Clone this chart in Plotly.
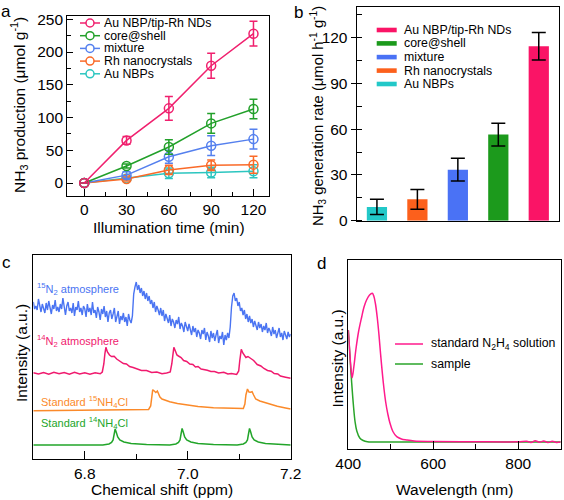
import plotly.graph_objects as go

W, H = 564, 500
FONT = "Arial"

def px(x):
    return x / W

def py(y):
    return 1 - y / H

# ---------------- Panel a data ----------------
time_min = [0, 30, 60, 90, 120]
a_series = ["Au NBPs", "Rh nanocrystals", "mixture", "core@shell", "Au NBP/tip-Rh NDs"]
a_values = {
    "Au NBP/tip-Rh NDs": [0, 65, 114, 179, 228],
    "core@shell": [0, 26, 55, 91, 113],
    "mixture": [0, 12, 40, 57, 67],
    "Rh nanocrystals": [0, 6, 20, 27, 28],
    "Au NBPs": [0, 7, 15, 16, 18],
}
a_errors = {
    "Au NBP/tip-Rh NDs": [0, 6, 18, 19, 19],
    "core@shell": [0, 3, 11, 15, 15],
    "mixture": [0, 5, 10, 15, 15],
    "Rh nanocrystals": [0, 3, 7, 8, 13],
    "Au NBPs": [0, 2, 8, 8, 10],
}
a_colors = {
    "Au NBP/tip-Rh NDs": "#f0206e",
    "core@shell": "#22a02a",
    "mixture": "#5580ee",
    "Rh nanocrystals": "#fa6a28",
    "Au NBPs": "#2cc6c0",
}
legend_order = ["Au NBP/tip-Rh NDs", "core@shell", "mixture", "Rh nanocrystals", "Au NBPs"]

# ---------------- Panel b data ----------------
b_categories = ["Au NBPs", "Rh nanocrystals", "mixture", "core@shell", "Au NBP/tip-Rh NDs"]
b_rates = [9, 14, 33.5, 56.5, 114.5]
b_errors = [5, 6.5, 7.5, 7.5, 9]
b_colors = {
    "Au NBP/tip-Rh NDs": "#fa1466",
    "core@shell": "#1c9a1c",
    "mixture": "#4a72f5",
    "Rh nanocrystals": "#fc601c",
    "Au NBPs": "#22c8c8",
}

# ---------------- Panel c data (NMR) ----------------
c_ticks = [6.8, 7.0, 7.2]
c_ticktext = ["6.8", "7.0", "7.2"]

green_ppm = [6.70, 6.835, 6.847, 6.852, 6.855, 6.857, 6.859, 6.861, 6.864, 6.868, 6.876, 6.89, 6.92,
             6.965, 6.977, 6.982, 6.985, 6.987, 6.989, 6.991, 6.994, 6.998, 7.006, 7.02, 7.05,
             7.096, 7.108, 7.113, 7.116, 7.118, 7.120, 7.122, 7.125, 7.129, 7.137, 7.151, 7.2]
green_int = [14, 14, 15, 16.5, 19, 24, 30, 27, 22, 19, 17, 15.5, 14.5,
             14, 15, 16.5, 19, 25, 30.5, 27.5, 22, 19, 17, 15.5, 14.5,
             14, 15, 16.5, 19, 25, 30.5, 27.5, 22, 19, 17, 15.5, 14]

orange_ppm = [6.70, 6.90, 6.924, 6.928, 6.930, 6.932, 6.935, 6.938, 6.941, 6.943, 6.946, 6.950, 6.957,
              6.965, 6.98, 6.998, 7.02, 7.05, 7.08, 7.102, 7.108, 7.111, 7.113, 7.116, 7.119, 7.122,
              7.125, 7.128, 7.132, 7.140, 7.148, 7.16, 7.174, 7.19, 7.2]
orange_int = [48.3, 48.8, 49.5, 53, 62, 69.3, 68, 66.5, 68, 66, 62, 60, 58.5,
              57.3, 55.5, 54, 52.5, 51.3, 50.5, 50, 50.5, 55, 64, 70, 67, 66.7,
              67.3, 64, 60, 58, 56.7, 54.5, 52.7, 51, 50]

pink_ppm = [6.70, 6.71, 6.72, 6.73, 6.74, 6.75, 6.76, 6.77, 6.78, 6.79, 6.80, 6.81, 6.82, 6.830,
            6.834, 6.837, 6.839, 6.841, 6.844, 6.848, 6.852, 6.857, 6.862, 6.867, 6.875, 6.881,
            6.887, 6.894, 6.90, 6.91, 6.92, 6.93, 6.94, 6.95, 6.959, 6.966, 6.969, 6.971, 6.973,
            6.976, 6.979, 6.982, 6.987, 6.992, 6.998, 7.004, 7.01, 7.015, 7.02, 7.026, 7.031,
            7.038, 7.045, 7.052, 7.06, 7.07, 7.078, 7.085, 7.095, 7.099, 7.101, 7.104, 7.107,
            7.110, 7.113, 7.117, 7.122, 7.128, 7.135, 7.142, 7.148, 7.155, 7.162, 7.168, 7.175,
            7.18, 7.19, 7.2]
pink_int = [86.3, 85, 86.5, 84.8, 86.8, 85.2, 86.5, 84.9, 86.6, 85, 86.2, 84.8, 86.3, 85.2,
            87, 95, 105, 111.7, 107, 104, 102.5, 102.8, 100, 98.5, 95.5, 95,
            92.5, 91.5, 90.5, 88.5, 88.5, 86.5, 87, 85.3, 86, 87, 95, 105, 111.7,
            108, 104, 103, 101.5, 98.5, 97.5, 95, 94.5, 92, 92.5, 90, 89.7,
            88.8, 87.5, 87.5, 86, 86.8, 85, 85.6, 84.5, 88, 98, 109.7, 106,
            103, 101.5, 102.5, 100.5, 98.5, 94.5, 93, 90.5, 88.5, 87.8, 85.5, 85,
            83, 81.8, 80.7]

# noisy 15N2 spectrum, sampled every 0.0025 ppm from 6.700 to 7.200
blue_int = [157, 150, 153, 149, 160, 152, 147, 155, 151, 146,
            156, 149, 158, 151, 145, 154, 150, 159, 148, 152,
            147, 155, 150, 161, 149, 144, 153, 157, 148, 151,
            146, 156, 143, 152, 149, 158, 147, 151, 144, 153,
            150, 142, 155, 147, 151, 144, 157, 146, 149, 141,
            152, 147, 139, 150, 145, 153, 142, 148, 137, 146,
            149, 140, 145, 151, 137, 144, 148, 135, 143, 139,
            146, 137, 142, 133, 145, 139, 136, 143, 165, 172,
            177, 169, 174, 166, 171, 163, 168, 160, 166, 158,
            163, 155, 159, 151, 157, 147, 153, 149, 144, 151,
            143, 149, 138, 145, 141, 136, 144, 133, 140, 137,
            131, 139, 135, 142, 130, 136, 133, 127, 137, 131,
            128, 135, 130, 124, 133, 127, 131, 122, 129, 126,
            120, 129, 125, 131, 119, 127, 123, 117, 128, 121,
            126, 118, 124, 129, 116, 123, 120, 127, 114, 124,
            119, 126, 121, 132, 152, 163, 166, 158, 161, 153,
            157, 148, 151, 144, 149, 140, 145, 137, 143, 136,
            140, 132, 138, 134, 129, 137, 131, 135, 127, 133,
            129, 136, 126, 131, 128, 123, 132, 125, 129, 121,
            127, 131, 122, 126, 119, 128, 124, 120, 127, 122, 125]
blue_ppm = [round(6.7 + 0.0025 * i, 4) for i in range(len(blue_int))]

# ---------------- Panel d data ----------------
sample_nm = [400, 402, 405, 408, 412, 416, 420, 427, 435, 445, 500, 600, 700, 800, 900]
sample_int = [119, 105, 85, 66, 44, 27, 18, 11, 8.5, 7.3, 7, 7, 7, 7, 7]
n2h4_nm = [400, 403, 406, 409, 413, 418, 424, 431.5, 437, 443, 450, 456.5, 460, 464, 468, 472,
           476, 482.5, 488, 493, 498, 505, 514, 525, 537, 555, 600, 700, 800, 820, 830, 840,
           850, 860, 870, 880, 890, 900]
n2h4_int = [119, 100, 82, 71.3, 82, 100, 117, 132, 142, 149, 154, 155.7, 153, 145, 132, 115,
            95, 66, 47, 35, 26, 17.5, 12.3, 10, 9, 8, 7.5, 7.2, 7.2, 7.8, 6.6, 8.2,
            6.8, 8, 6.5, 7.8, 6.6, 7.2]

fig = go.Figure()

# Panel a traces
for name in a_series:
    c = a_colors[name]
    fig.add_trace(go.Scatter(
        x=time_min, y=a_values[name], mode="lines+markers", name=name,
        line=dict(color=c, width=1.5),
        marker=dict(symbol="circle-open", size=9, color=c, line=dict(width=1.5, color=c)),
        error_y=dict(type="data", array=a_errors[name], color=c, thickness=1.5, width=4),
        xaxis="x", yaxis="y", showlegend=False))

# Panel b bars
fig.add_trace(go.Bar(
    x=b_categories, y=b_rates, width=0.5,
    marker=dict(color=[b_colors[c] for c in b_categories], line=dict(width=0)),
    error_y=dict(type="data", array=b_errors, color="black", thickness=1.5, width=7),
    xaxis="x2", yaxis="y2", showlegend=False))

# Panel c traces
for xs, ys, col, lw in [(green_ppm, green_int, "#22a52a", 1.5),
                        (orange_ppm, orange_int, "#fb8a2a", 1.5),
                        (pink_ppm, pink_int, "#f01a6e", 1.5),
                        (blue_ppm, blue_int, "#4a74f2", 1.4)]:
    fig.add_trace(go.Scatter(x=xs, y=ys, mode="lines", line=dict(color=col, width=lw),
                             xaxis="x3", yaxis="y3", showlegend=False))

# Panel d traces
fig.add_trace(go.Scatter(x=sample_nm, y=sample_int, mode="lines", line=dict(color="#2aa52a", width=1.5, shape="spline"),
                         xaxis="x4", yaxis="y4", showlegend=False))
fig.add_trace(go.Scatter(x=n2h4_nm, y=n2h4_int, mode="lines", line=dict(color="#ff1a8c", width=1.5, shape="spline"),
                         xaxis="x4", yaxis="y4", showlegend=False))

tickfont = dict(family=FONT, size=15.5, color="black")
common = dict(showline=True, mirror=True, linecolor="black", linewidth=1.2, showgrid=False,
              zeroline=False, tickfont=tickfont, tickcolor="black", tickwidth=1.2, automargin=False)

fig.update_layout(
    width=W, height=H, margin=dict(l=0, r=0, t=0, b=0, pad=0, autoexpand=False),
    paper_bgcolor="white", plot_bgcolor="white",
    font=dict(family=FONT, color="black"),
    xaxis=dict(domain=[px(67.3), px(269)], range=[-12, 131], anchor="y",
               tickmode="array", tickvals=time_min, ticks="inside", ticklen=7,
               minor=dict(dtick=15, tick0=0, ticks="inside", ticklen=4, tickcolor="black"), **common),
    yaxis=dict(domain=[py(195.7), py(16)], range=[-19.4, 255], anchor="x",
               tickmode="linear", tick0=0, dtick=50, ticks="inside", ticklen=6,
               minor=dict(dtick=25, tick0=0, ticks="inside", ticklen=4, tickcolor="black"), **common),
    xaxis2=dict(domain=[px(356.7), px(559)], range=[-0.5, 4.5], anchor="y2", type="category",
                showticklabels=False, ticks="", **common),
    yaxis2=dict(domain=[py(220.7), py(7.3)], range=[0, 140], anchor="x2",
                tickmode="linear", tick0=0, dtick=30, ticks="outside", ticklen=5,
                minor=dict(dtick=15, tick0=0, ticks="inside", ticklen=5, tickcolor="black"), **common),
    xaxis3=dict(domain=[px(33.3), px(290.7)], range=[6.7, 7.2], anchor="y3",
                tickmode="array", tickvals=c_ticks, ticktext=c_ticktext, ticks="inside", ticklen=8,
                minor=dict(tickvals=[6.9, 7.1], ticks="inside", ticklen=5, tickcolor="black"), **common),
    yaxis3=dict(domain=[py(459), py(255)], range=[0, 204], anchor="x3",
                showticklabels=False, ticks="", **common),
    xaxis4=dict(domain=[px(348.3), px(560.7)], range=[400, 900], anchor="y4",
                tickmode="linear", tick0=400, dtick=200, ticks="inside", ticklen=8,
                minor=dict(dtick=100, tick0=400, ticks="inside", ticklen=5, tickcolor="black"), **common),
    yaxis4=dict(domain=[py(449), py(260)], range=[0, 189], anchor="x4",
                showticklabels=False, ticks="", **common),
)

ann = []
shapes = []

def text(x, y, s, size=15.5, color="black", angle=0, xanchor="center", yanchor="middle"):
    ann.append(dict(x=px(x), y=py(y), xref="paper", yref="paper", text=s, showarrow=False,
                    textangle=angle, xanchor=xanchor, yanchor=yanchor,
                    font=dict(family=FONT, size=size, color=color)))

# Panel labels
text(6, 11, "a", size=17)
text(298, 12, "b", size=17)
text(6, 262, "c", size=17)
text(321.5, 263, "d", size=17)

# Axis titles
text(19, 105, "NH<sub>3</sub> production (μmol g<sup>-1</sup>)", angle=-90)
text(169, 228, "Illumination time (min)")
text(318, 116, "NH<sub>3</sub> generation rate (μmol h<sup>-1</sup> g<sup>-1</sup>)", size=14.8, angle=-90)
text(21, 353, "Intensity (a.u.)", angle=-90)
text(162, 489, "Chemical shift (ppm)")
text(336.5, 359, "Intensity (a.u.)", angle=-90)
text(454, 489, "Wavelength (nm)")

# Panel a legend (drawn manually for compact spacing)
rows_a = [23, 35.7, 48.4, 61.1, 73.8]
for name, yy in zip(legend_order, rows_a):
    c = a_colors[name]
    shapes.append(dict(type="line", xref="paper", yref="paper", x0=px(80), x1=px(100), y0=py(yy), y1=py(yy),
                       line=dict(color=c, width=1.5)))
    shapes.append(dict(type="circle", xref="paper", yref="paper", x0=px(86), x1=px(94), y0=py(yy + 4), y1=py(yy - 4),
                       line=dict(color=c, width=1.5), fillcolor="white"))
    text(102, yy, name, size=12.3, xanchor="left")

# Panel b legend
rows_b = [30, 43.4, 57.1, 70.6, 84]
for name, yy in zip(legend_order, rows_b):
    c = b_colors[name]
    shapes.append(dict(type="rect", xref="paper", yref="paper", x0=px(376.7), x1=px(396.7),
                       y0=py(yy + 2.3), y1=py(yy - 2.3), line=dict(width=0), fillcolor=c))
    text(401.7, yy, name, size=12.3, xanchor="left")

# Panel c labels
text(35, 289, "<sup>15</sup>N<sub>2</sub> atmosphere", size=11, color="#4a74f2", xanchor="left")
text(35, 340.7, "<sup>14</sup>N<sub>2</sub> atmosphere", size=11, color="#f01a6e", xanchor="left")
text(39, 401.7, "Standard <sup>15</sup>NH<sub>4</sub>Cl", size=11, color="#fb8a2a", xanchor="left")
text(39, 423.3, "Standard <sup>14</sup>NH<sub>4</sub>Cl", size=11, color="#22a52a", xanchor="left")

# Panel d legend
shapes.append(dict(type="line", xref="paper", yref="paper", x0=px(395), x1=px(423), y0=py(344), y1=py(344),
                   line=dict(color="#ff1a8c", width=1.5)))
shapes.append(dict(type="line", xref="paper", yref="paper", x0=px(395), x1=px(423), y0=py(364), y1=py(364),
                   line=dict(color="#2aa52a", width=1.5)))
text(429.3, 344, "standard N<sub>2</sub>H<sub>4</sub> solution", size=12.3, xanchor="left")
text(429.3, 364, "sample", size=12.3, xanchor="left")

fig.update_layout(annotations=ann, shapes=shapes)
fig.write_html("out.html", config={"displayModeBar": False},
               post_script="document.body.style.margin='0px';")
